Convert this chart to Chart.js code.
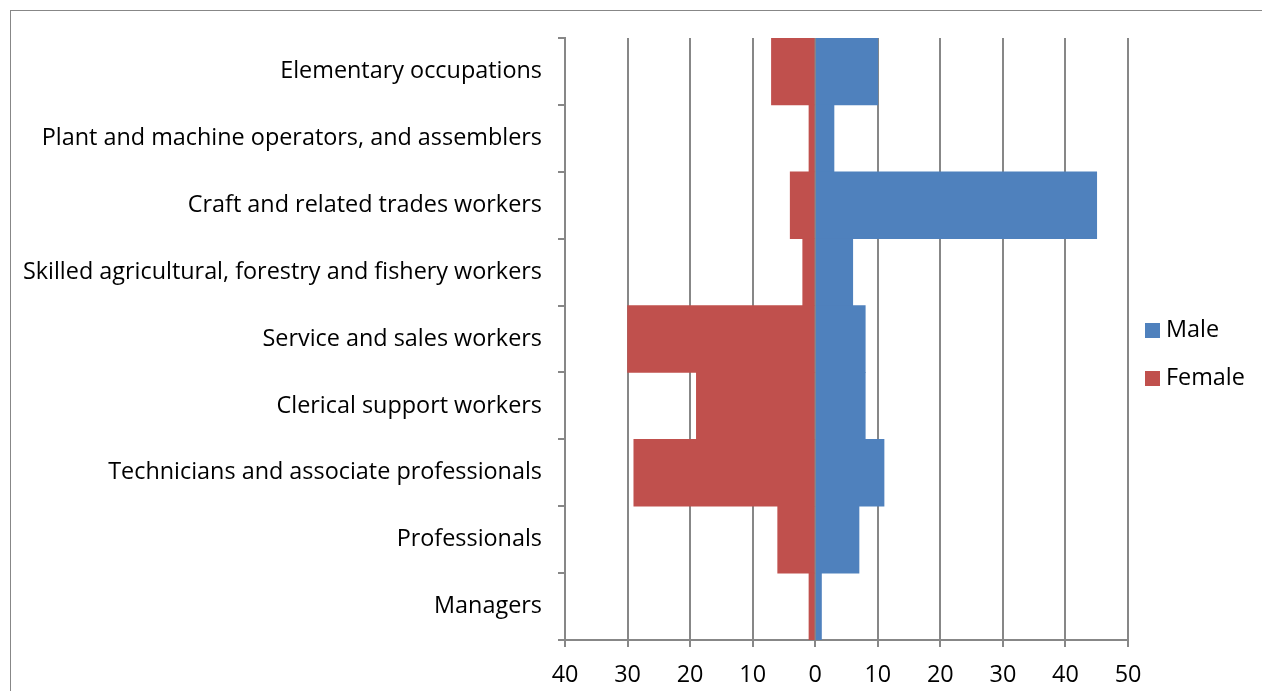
<!DOCTYPE html>
<html>
<head>
<meta charset="utf-8">
<script src="https://cdn.jsdelivr.net/npm/chart.js@4"></script>
<style>
  html, body { margin: 0; padding: 0; background: #fff; }
  #wrap { width: 1262px; height: 691px; position: relative; }
</style>
</head>
<body>
<div id="wrap"><canvas id="chart" width="1262" height="691"></canvas></div>
<script>
// categories, top to bottom as they appear
const occupations = [
    'Elementary occupations',
    'Plant and machine operators, and assemblers',
    'Craft and related trades workers',
    'Skilled agricultural, forestry and fishery workers',
    'Service and sales workers',
    'Clerical support workers',
    'Technicians and associate professionals',
    'Professionals',
    'Managers'
];
const maleValues = [10, 3, 45, 6, 8, 8, 11, 7, 1];
// female shown to the left of zero
const femaleValues = [-7, -1, -4, -2, -30, -19, -29, -6, -1];

const xMin = -40;
const xMax = 50;
const xStep = 10;

const maleColor = '#4f81bd';
const femaleColor = '#c0504d';
const gridGray = '#878787';
const fontFamily = "'Open Sans', 'Noto Sans', sans-serif";
const fontSize = 23.4;

// outer frame + custom legend on the right
const framePlugin = {
    id: 'frame',
    beforeDraw(chart) {
        const ctx = chart.ctx;
        ctx.save();
        ctx.strokeStyle = gridGray;
        ctx.lineWidth = 1;
        ctx.strokeRect(10.5, 10.5, 1400, 1000);
        ctx.restore();
    },
    afterDraw(chart) {
        const ctx = chart.ctx;
        ctx.save();
        ctx.font = fontSize + 'px ' + fontFamily;
        ctx.textBaseline = 'middle';
        chart.data.datasets.forEach((ds, i) => {
            const y = 330 + i * 48;
            ctx.fillStyle = ds.backgroundColor;
            ctx.fillRect(1145, y - 7, 15, 15);
            ctx.fillStyle = '#000';
            ctx.fillText(ds.label, 1166, y);
        });
        ctx.restore();
    }
};

new Chart(document.getElementById('chart'), {
    type: 'bar',
    data: {
        labels: occupations,
        datasets: [
            { label: 'Male', data: maleValues, backgroundColor: maleColor, borderWidth: 0 },
            { label: 'Female', data: femaleValues, backgroundColor: femaleColor, borderWidth: 0 }
        ]
    },
    options: {
        indexAxis: 'y',
        responsive: false,
        animation: false,
        layout: { padding: { top: 38, right: 134, left: 0, bottom: 0 } },
        plugins: {
            legend: { display: false },
            tooltip: { enabled: false }
        },
        datasets: {
            bar: { categoryPercentage: 1.0, barPercentage: 1.0 }
        },
        scales: {
            x: {
                stacked: true,
                min: xMin,
                max: xMax,
                ticks: {
                    stepSize: xStep,
                    padding: 14,
                    color: '#000',
                    font: { family: fontFamily, size: fontSize },
                    callback: v => Math.abs(v)
                },
                grid: { color: gridGray, lineWidth: 2, tickLength: 7 },
                border: { color: gridGray, width: 2 },
                afterFit(scale) { scale.height = 51; }
            },
            y: {
                stacked: true,
                ticks: {
                    padding: 16,
                    color: '#000',
                    font: { family: fontFamily, size: fontSize }
                },
                grid: { offset: true, drawOnChartArea: false, color: gridGray, lineWidth: 2, tickLength: 7 },
                border: { color: gridGray, width: 2 },
                afterFit(scale) { scale.width = 565; }
            }
        }
    },
    plugins: [framePlugin]
});
</script>
</body>
</html>
